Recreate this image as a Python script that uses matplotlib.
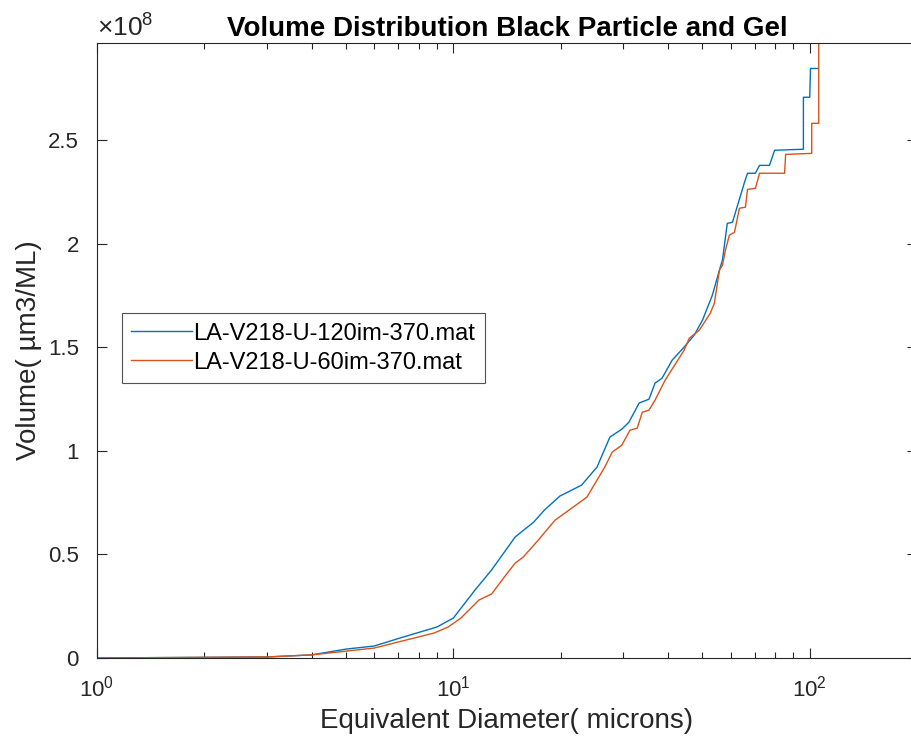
import numpy as np
import matplotlib
matplotlib.use('Agg')
import matplotlib.pyplot as plt

plt.rcParams['font.family'] = ['Liberation Sans', 'DejaVu Sans']
plt.rcParams['mathtext.fontset'] = 'custom'
plt.rcParams['mathtext.rm'] = 'Liberation Sans'
plt.rcParams['mathtext.it'] = 'Liberation Sans'

# cumulative volume (x1e8 um3/mL) vs equivalent diameter (microns)
d_120 = [1.0, 3.0, 4.0, 5.0, 6.0, 7.1, 9.0, 10.0, 11.5, 12.8, 14.9, 15.5, 16.8, 18.0,
         19.9, 21.5, 22.9, 25.3, 27.5, 29.7, 31.1, 33.2, 35.4, 36.8, 38.5, 41.1, 44.4,
         47.4, 50.0, 53.3, 56.1, 56.9, 58.7, 60.7, 65.6, 66.9, 70.4, 72.3, 77.1, 79.7,
         96.0, 96.0, 100.0, 100.5, 105.3]
v_120 = [0.0, 0.005, 0.015, 0.043, 0.058, 0.097, 0.150, 0.193, 0.328, 0.425, 0.584, 0.608,
         0.656, 0.714, 0.782, 0.811, 0.835, 0.922, 1.067, 1.105, 1.139, 1.231, 1.250, 1.327,
         1.351, 1.438, 1.501, 1.559, 1.631, 1.752, 1.887, 1.921, 2.099, 2.104, 2.297, 2.341,
         2.341, 2.379, 2.379, 2.452, 2.457, 2.708, 2.708, 2.847, 2.847]

d_60 = [1.0, 3.0, 4.0, 6.0, 8.84, 9.68, 10.5, 11.8, 12.8, 13.9, 14.9, 15.7, 17.3, 19.3,
        21.1, 23.7, 26.6, 27.9, 29.7, 31.3, 32.8, 33.9, 35.4, 36.8, 39.3, 44.4, 45.9, 49.0,
        52.6, 54.0, 55.8, 56.9, 58.0, 59.5, 61.5, 63.5, 66.0, 66.9, 70.4, 72.3, 85.0, 85.6,
        101.3, 101.3, 106.0, 106.0]
v_60 = [0.0, 0.005, 0.015, 0.048, 0.121, 0.150, 0.193, 0.280, 0.309, 0.391, 0.458, 0.487,
        0.569, 0.666, 0.714, 0.777, 0.922, 0.994, 1.028, 1.100, 1.110, 1.187, 1.197, 1.245,
        1.342, 1.486, 1.544, 1.583, 1.665, 1.713, 1.873, 1.897, 1.969, 2.042, 2.056, 2.172,
        2.177, 2.263, 2.268, 2.341, 2.341, 2.432, 2.437, 2.582, 2.582, 3.2]

labels = ['LA-V218-U-120im-370.mat', 'LA-V218-U-60im-370.mat']
yticks = [0, 0.5, 1, 1.5, 2, 2.5]

fig = plt.figure(figsize=(9.11, 7.43), dpi=100)
ax = fig.add_axes([97/911, 85/743, 820/911, 615/743])

ax.plot(d_120, np.array(v_120)*1e8, color='#0072BD', lw=1.0, label=labels[0])
ax.plot(d_60, np.array(v_60)*1e8, color='#D95319', lw=1.0, label=labels[1])

ax.set_xscale('log')
ax.set_xlim(1, 200)
ax.set_ylim(0, 2.97e8)
ax.set_yticks([t*1e8 for t in yticks])
ax.set_yticklabels([('%g' % t) for t in yticks])
ax.text(0, 1.003, r'$\times 10^{8}$', transform=ax.transAxes, ha='left', va='bottom',
        fontsize=19, color='#262626')

for s in ax.spines.values():
    s.set_color('#262626')
    s.set_linewidth(0.8)
ax.tick_params(which='both', direction='in', top=True, right=True, colors='#262626',
               labelsize=16, width=0.8)
ax.tick_params(which='major', length=7)
ax.tick_params(which='minor', length=4)
ax.tick_params(axis='x', which='major', pad=13)
ax.tick_params(axis='y', which='major', pad=13)

ax.set_title('Volume Distribution Black Particle and Gel', fontsize=20, fontweight='bold', pad=5)
ax.set_xlabel('Equivalent Diameter( microns)', fontsize=20, color='#262626', labelpad=4)
ax.set_ylabel('Volume( µm3/ML)', fontsize=20, color='#262626', labelpad=4)

leg = ax.legend(loc='lower left', bbox_to_anchor=(0.03, 0.447), fontsize=17, frameon=True,
                fancybox=False, edgecolor='#262626', handlelength=2.6, handletextpad=0.05,
                borderpad=0.4, labelspacing=0.3, borderaxespad=0)
leg.get_frame().set_linewidth(0.8)

fig.savefig('out.png', dpi=100)
